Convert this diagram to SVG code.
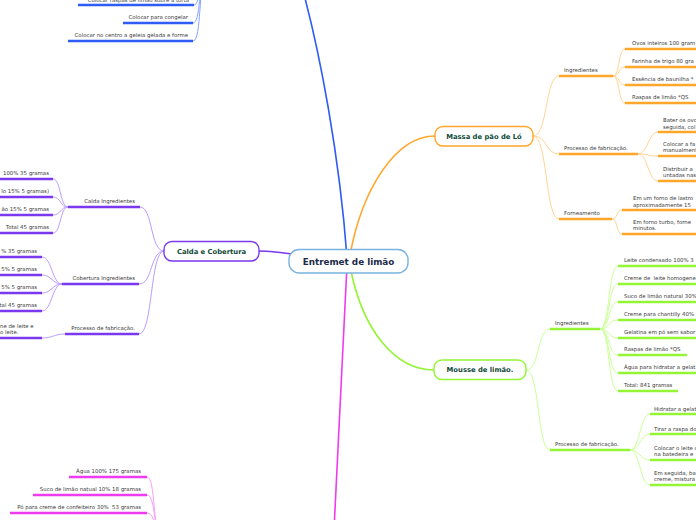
<svg xmlns="http://www.w3.org/2000/svg" width="696" height="520" viewBox="0 0 696 520">
<style>
.t{font-family:"DejaVu Sans","Verdana",sans-serif;font-size:5.4px;fill:#3a3a3a;white-space:pre}
.e{text-anchor:end}
.nt{font-family:"DejaVu Sans","Verdana",sans-serif;font-weight:bold;font-size:6.8px;fill:#0f4a37;text-anchor:middle}
.ct{font-family:"DejaVu Sans","Verdana",sans-serif;font-weight:bold;font-size:8.8px;fill:#1b2a4a;text-anchor:middle}
.c{fill:none;stroke-width:1}
.m{fill:none;stroke-width:1.6}
.u{fill:none;stroke-width:2.4}
.bl{stroke:#2f5cf5}.blc{stroke:#86a3ff}
.or{stroke:#ffa62b}.orc{stroke:#ffd494}
.gr{stroke:#93f534}.grc{stroke:#ccff99}
.pu{stroke:#7a38ef}.puc{stroke:#b89dff}
.mg{stroke:#ef3bef}.mgc{stroke:#f7a0f7}
</style>
<rect width="696" height="520" fill="#ffffff"/>
<g id="connectors">
<path class="m bl" d="M347,258 C340,160 320,50 300,-20"/>
<path class="m or" d="M350,255 C362,190 395,136 435,136"/>
<path class="m gr" d="M350,266 C362,330 395,370 434,370"/>
<path class="m mg" d="M347,265 C343,350 338,440 334,530"/>
<path class="m pu" d="M259,251 C280,251 300,256 348,261"/>
<path class="c blc" d="M194,5 C200,5 199,-20 206,-20"/>
<path class="c blc" d="M193,23 C201,23 198,-20 206,-20"/>
<path class="c blc" d="M193,41 C202,41 198,-20 206,-20"/>
<path class="c puc" d="M164,251 C150,251 153,207 140,207"/>
<path class="c puc" d="M164,251 C150,251 153,284 139,284"/>
<path class="c puc" d="M164,251 C150,251 153,334 139,334"/>
<path class="c puc" d="M68,207 C60,207 61,179 53,179"/>
<path class="c puc" d="M68,207 C60,207 61,197 53,197"/>
<path class="c puc" d="M68,207 C60,207 61,215 53,215"/>
<path class="c puc" d="M68,207 C60,207 61,233 53,233"/>
<path class="c puc" d="M62,284 C52,284 52,257 42,257"/>
<path class="c puc" d="M62,284 C52,284 52,275 42,275"/>
<path class="c puc" d="M62,284 C52,284 52,293 42,293"/>
<path class="c puc" d="M62,284 C52,284 52,311 42,311"/>
<path class="c puc" d="M65,334 C54,334 53,338 42,338"/>
<path class="c mgc" d="M147,477 C156,477 152,535 162,535"/>
<path class="c mgc" d="M147,495 C156,495 153,535 162,535"/>
<path class="c mgc" d="M147,513 C156,513 154,535 162,535"/>
<path class="c orc" d="M533,136 C548,136 545,76 559,76"/>
<path class="c orc" d="M533,136 C548,136 545,154 559,154"/>
<path class="c orc" d="M533,136 C548,136 545,219 559,219"/>
<path class="c orc" d="M613,76 C620,76 618,49 625,49"/>
<path class="c orc" d="M613,76 C620,76 618,67 625,67"/>
<path class="c orc" d="M613,76 C620,76 618,85 625,85"/>
<path class="c orc" d="M613,76 C620,76 618,103 625,103"/>
<path class="c orc" d="M638,154 C648,154 648,132 658,132"/>
<path class="c orc" d="M638,154 C648,154 648,156 658,156"/>
<path class="c orc" d="M638,154 C648,154 648,181 658,181"/>
<path class="c orc" d="M612,219 C618,219 616,210 622,210"/>
<path class="c orc" d="M612,219 C618,219 616,234 622,234"/>
<path class="c grc" d="M526,370 C540,370 537,329 550,329"/>
<path class="c grc" d="M526,370 C540,370 537,450 550,450"/>
<path class="c grc" d="M600,329 C610,329 608,266 618,266"/>
<path class="c grc" d="M600,329 C610,329 608,284 618,284"/>
<path class="c grc" d="M600,329 C610,329 608,302 618,302"/>
<path class="c grc" d="M600,329 C610,329 608,320 618,320"/>
<path class="c grc" d="M600,329 C610,329 608,338 618,338"/>
<path class="c grc" d="M600,329 C610,329 608,355 618,355"/>
<path class="c grc" d="M600,329 C610,329 608,373 618,373"/>
<path class="c grc" d="M600,329 C610,329 608,391 618,391"/>
<path class="c grc" d="M630,450 C640,450 640,414 650,414"/>
<path class="c grc" d="M630,450 C640,450 640,434 650,434"/>
<path class="c grc" d="M630,450 C640,450 640,460 650,460"/>
<path class="c grc" d="M630,450 C640,450 640,485 650,485"/>
</g>

<g id="center">
<rect x="289" y="249.5" width="119" height="23.5" rx="10" fill="#ffffff" stroke="#78b2e0" stroke-width="1.4"/>
<text class="ct" x="348.5" y="264.5">Entremet de limão</text>
</g>

<g id="calda">
<rect x="164" y="241.5" width="95" height="19.5" rx="8" fill="#ffffff" stroke="#7a38ef" stroke-width="1.4"/>
<text class="nt" x="211.5" y="253.5">Calda e Cobertura</text>
</g>

<g id="massa">
<rect x="435" y="126.5" width="98" height="19.5" rx="8" fill="#ffffff" stroke="#ffa62b" stroke-width="1.4"/>
<text class="nt" x="484" y="138.5">Massa de pão de Ló</text>
</g>

<g id="mousse">
<rect x="434" y="360" width="92" height="19.5" rx="8" fill="#ffffff" stroke="#93f534" stroke-width="1.4"/>
<text class="nt" x="480" y="372">Mousse de limão.</text>
</g>

<g id="blue-items">
<path class="u bl" d="M78,5 H194 M123,23 H193 M68,41 H193"/>
<text class="t e" x="189" y="1.5">Colocar raspas de limão sobre a torta</text>
<text class="t e" x="188" y="19">Colocar para congelar</text>
<text class="t e" x="188" y="37">Colocar no centro a geleia gelada e forme</text>
</g>

<g id="calda-ingredientes">
<path class="u pu" d="M68,207 H140"/>
<text class="t e" x="135" y="203">Calda Ingredientes</text>
<path class="u pu" d="M-5,179 H53 M-5,197 H53 M-5,215 H53 M-5,233 H53"/>
<text class="t e" x="49" y="175">100% 35 gramas</text>
<text class="t e" x="49" y="193">lo 15% 5 gramas)</text>
<text class="t e" x="49" y="211">ão 15% 5 gramas</text>
<text class="t e" x="49" y="229">Total 45 gramas</text>
</g>
<g id="cobertura-ingredientes">
<path class="u pu" d="M62,284 H139"/>
<text class="t e" x="135" y="280">Cobertura Ingredientes</text>
<path class="u pu" d="M-5,257 H42 M-5,275 H42 M-5,293 H42 M-5,311 H42"/>
<text class="t e" x="37" y="253">% 35 gramas</text>
<text class="t e" x="37" y="271">5% 5 gramas</text>
<text class="t e" x="37" y="289">5% 5 gramas</text>
<text class="t e" x="37" y="307">tal 45 gramas</text>
</g>
<g id="calda-processo">
<path class="u pu" d="M65,334 H139"/>
<text class="t e" x="135" y="330">Processo de fabricação.</text>
<path class="u pu" d="M-5,338 H42"/>
<text class="t" x="0" y="327.5">ne de leite e</text>
<text class="t" x="0" y="334">o leite.</text>
</g>

<g id="magenta-items">
<path class="u mg" d="M69,477 H147 M33,495 H147 M10,513 H147"/>
<text class="t e" x="141" y="473">Água 100% 175 gramas</text>
<text class="t e" x="141" y="491">Suco de limão natual 10% 18 gramas</text>
<text class="t e" x="141" y="509">Pó para creme de confeiteiro 30%  53 gramas</text>
</g>

<g id="massa-ingredientes">
<path class="u or" d="M559,76 H613"/>
<text class="t" x="564" y="72">Ingredientes</text>
<path class="u or" d="M625,49 H700 M625,67 H700 M625,85 H700 M625,103 H700"/>
<text class="t" x="632" y="45">Ovos inteiros 100 gram</text>
<text class="t" x="632" y="63">Farinha de trigo 80 gra</text>
<text class="t" x="632" y="81">Essência de baunilha *</text>
<text class="t" x="632" y="99">Raspas de limão *QS</text>
</g>
<g id="massa-processo">
<path class="u or" d="M559,154 H638"/>
<text class="t" x="564" y="150">Processo de fabricação.</text>
<path class="u or" d="M658,132 H700 M658,156 H700 M658,181 H700"/>
<text class="t" x="663" y="122">Bater os ovo</text>
<text class="t" x="663" y="128.5">seguida, col</text>
<text class="t" x="663" y="145.5">Colocar a fa</text>
<text class="t" x="663" y="152">manualment</text>
<text class="t" x="663" y="170.5">Distribuir a</text>
<text class="t" x="663" y="177">untadas nas</text>
</g>
<g id="massa-forneamento">
<path class="u or" d="M559,219 H612"/>
<text class="t" x="564" y="215">Forneamento</text>
<path class="u or" d="M622,210 H700 M622,234 H700"/>
<text class="t" x="633" y="200">Em um forno de lastro</text>
<text class="t" x="633" y="206.5">aproximadamente 15</text>
<text class="t" x="633" y="223.5">Em forno turbo, forne</text>
<text class="t" x="633" y="230">minutos.</text>
</g>

<g id="mousse-ingredientes">
<path class="u gr" d="M550,329 H600"/>
<text class="t" x="555" y="325">Ingredientes</text>
<path class="u gr" d="M618,266 H700 M618,284 H700 M618,302 H700 M618,320 H700 M618,338 H700 M618,355 H687 M618,373 H700 M618,391 H678"/>
<text class="t" x="624" y="262">Leite condensado 100% 3</text>
<text class="t" x="624" y="280">Creme de  leite homogene</text>
<text class="t" x="624" y="298">Suco de limão natural 30%</text>
<text class="t" x="624" y="316">Creme para chantilly 40%</text>
<text class="t" x="624" y="334">Gelatina em pó sem sabor</text>
<text class="t" x="624" y="351">Raspas de limão *QS</text>
<text class="t" x="624" y="369">Água para hidratar a gelat</text>
<text class="t" x="624" y="387">Total: 841 gramas</text>
</g>
<g id="mousse-processo">
<path class="u gr" d="M550,450 H630"/>
<text class="t" x="555" y="446">Processo de fabricação.</text>
<path class="u gr" d="M650,414 H700 M650,434 H700 M650,460 H700 M650,485 H700"/>
<text class="t" x="654" y="410.5">Hidratar a gelat</text>
<text class="t" x="654" y="430.5">Tirar a raspa do</text>
<text class="t" x="654" y="449.5">Colocar o leite c</text>
<text class="t" x="654" y="456">na batedeira e</text>
<text class="t" x="654" y="474.5">Em seguida, ba</text>
<text class="t" x="654" y="481">creme, mistura</text>
</g>
</svg>
